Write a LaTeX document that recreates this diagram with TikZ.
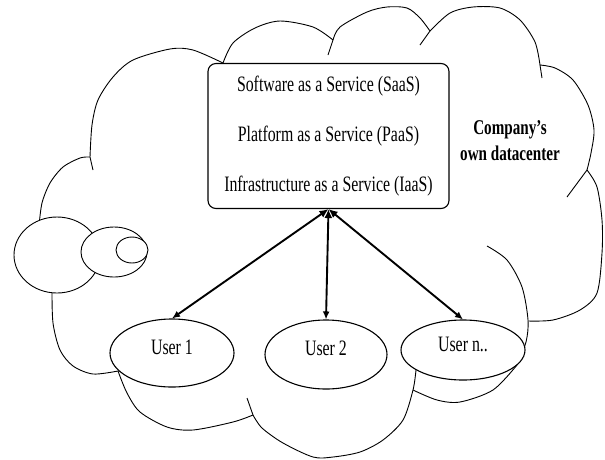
\documentclass[tikz,border=0pt]{standalone}
\usepackage{fontspec}
\setmainfont{Liberation Serif}[FakeStretch=0.72]
\usetikzlibrary{shapes.geometric}
\usetikzlibrary{arrows.meta}

\begin{document}
\begin{tikzpicture}[x=1pt,y=-1pt,
    cloudline/.style={line width=0.9pt, line join=round},
    bubble/.style={ellipse, draw, fill=white, line width=0.9pt, inner sep=0pt},
    user/.style={ellipse, draw, fill=white, line width=1.1pt, inner sep=0pt, minimum width=124pt, minimum height=68pt, text depth=12pt, font=\fontsize{22}{24}\selectfont},
    link/.style={line width=1.9pt, {Latex[length=9pt,width=8pt]}-{Latex[length=8pt,width=7pt]}}]
  \useasboundingbox (0,0) rectangle (605,459);

  % Outer cloud, lobe by lobe
  \draw[cloudline] plot[smooth] coordinates {(223,63) (193,50) (170,49) (133,60) (113,77) (98,100) (92,125) (90,157)};
  \draw[cloudline] plot[smooth] coordinates {(90,157) (93,170)};
  \draw[cloudline] plot[smooth] coordinates {(90,157) (80,158) (63,167) (50,183) (42,203) (39,226)};
  \draw[cloudline] plot[smooth] coordinates {(52,290) (53,323) (60,350) (73,366) (93,374) (118,371)};
  \draw[cloudline] plot[smooth] coordinates {(118,371) (127,393) (140,412) (167,427) (193,430) (233,422) (253,415)};
  \draw[cloudline] plot[smooth] coordinates {(253,415) (247,398)};
  \draw[cloudline] plot[smooth] coordinates {(416,370) (413,390) (403,420) (383,440) (360,452) (333,457) (313,457) (283,443) (262,428) (253,415)};
  \draw[cloudline] plot[smooth] coordinates {(517,365) (493,390) (460,402) (437,400) (413,390)};
  \draw[cloudline] plot[smooth] coordinates {(487,246) (507,260) (522,287) (528,320) (526,342) (517,365)};
  \draw[cloudline] plot[smooth] coordinates {(587,170) (597,187) (602,220) (602,253) (597,293) (580,310) (553,320) (528,321)};
  \draw[cloudline] plot[smooth] coordinates {(587,170) (567,197)};
  \draw[cloudline] plot[smooth] coordinates {(540,65) (555,68) (573,80) (588,105) (594,130) (591,153) (587,170)};
  \draw[cloudline] plot[smooth] coordinates {(540,65) (542,78)};
  \draw[cloudline] plot[smooth] coordinates {(430,31) (450,13) (473,7) (500,8) (520,20) (535,42) (540,65)};
  \draw[cloudline] plot[smooth] coordinates {(430,31) (420,45)};
  \draw[cloudline] plot[smooth] coordinates {(333,40) (340,27) (367,12) (387,7) (407,8) (420,18) (430,31)};
  \draw[cloudline] plot[smooth] coordinates {(333,40) (328,55)};
  \draw[cloudline] plot[smooth] coordinates {(223,63) (233,43) (255,28) (280,21) (313,27) (333,40)};

  % Little puffs on the left
  \node (puffA) at (57,255) [bubble, minimum width=86pt, minimum height=76pt] {};
  \node (puffB) at (114,252) [bubble, minimum width=66pt, minimum height=50pt] {};
  \node (puffC) at (132,250) [bubble, minimum width=32pt, minimum height=26pt] {};

  % Service stack
  \node (stack) at (328.5,136) [rectangle, rounded corners=8pt, draw, fill=white, line width=1.1pt, minimum width=241pt, minimum height=145pt, align=center, font=\fontsize{22}{50}\selectfont] {Software as a Service (SaaS)\\Platform as a Service (PaaS)\\Infrastructure as a Service (IaaS)};

  % Datacenter label
  \node (dc) at (510,141) [align=center, font=\bfseries\fontsize{21}{26}\selectfont] {Company's\\own datacenter};

  % Users
  \node (u1) at (172,353) [user] {User 1};
  \node (u2) at (326,354.5) [user, minimum width=122pt, minimum height=69pt] {User 2};
  \node (un) at (463,350) [user, minimum height=60pt] {User n..};

  % Links from the stack to the users
  \draw[link] (stack.south) -- (u1.north);
  \draw[link] (stack.south) -- (u2.north);
  \draw[link] (stack.south) -- (un.north);
\end{tikzpicture}
\end{document}
